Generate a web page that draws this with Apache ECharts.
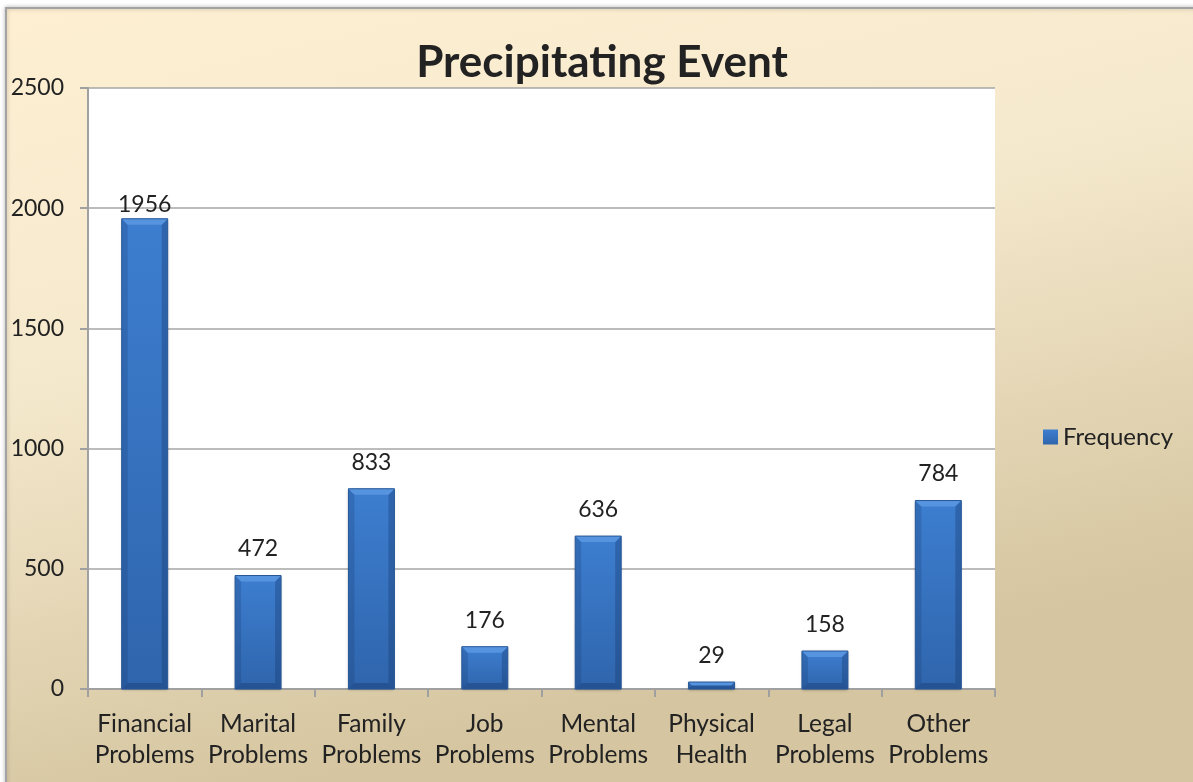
<!DOCTYPE html>
<html>
<head>
<meta charset="utf-8">
<title>Precipitating Event</title>
<script src="https://cdn.jsdelivr.net/npm/echarts@6/dist/echarts.min.js"></script>
<style>
  html, body { margin: 0; padding: 0; background: #ffffff; }
  #chart { width: 1193px; height: 782px; }
</style>
</head>
<body>
<div id="chart"></div>
<script>
// Precipitating events and how often each was reported
var categories = [
  'Financial\nProblems', 'Marital\nProblems', 'Family\nProblems', 'Job\nProblems',
  'Mental\nProblems', 'Physical\nHealth', 'Legal\nProblems', 'Other\nProblems'
];
var frequency = [1956, 472, 833, 176, 636, 29, 158, 784];
var yTicks = { min: 0, max: 2500, interval: 500 };

var FONT = 'Lato, "Open Sans", sans-serif';
var TEXT = '#222222';

var chart = echarts.init(document.getElementById('chart'));

// Bevel facets drawn over each bar: light top edge, shaded sides, darker bottom edge
function renderBevel(params, api) {
  var idx = api.value(0);
  var val = api.value(1);
  var top = api.coord([idx, val]);
  var base = api.coord([idx, 0]);
  var w = 46;
  var x0 = top[0] - w / 2, x1 = top[0] + w / 2;
  var y0 = top[1], y1 = base[1];
  var h = y1 - y0;
  var b = Math.min(6, h / 2);
  var children = [
    {
      type: 'polygon',
      shape: { points: [[x0, y0], [x0 + b, y0 + b], [x0 + b, y1 - b], [x0, y1]] },
      style: { fill: 'rgba(20,50,100,0.22)' }
    },
    {
      type: 'polygon',
      shape: { points: [[x1, y0], [x1 - b, y0 + b], [x1 - b, y1 - b], [x1, y1]] },
      style: { fill: 'rgba(20,50,100,0.32)' }
    },
    {
      type: 'polygon',
      shape: { points: [[x0, y0], [x1, y0], [x1 - b, y0 + b], [x0 + b, y0 + b]] },
      style: { fill: '#5794E0' }
    },
    {
      type: 'polygon',
      shape: { points: [[x0, y1], [x1, y1], [x1 - b, y1 - b], [x0 + b, y1 - b]] },
      style: { fill: 'rgba(20,50,100,0.35)' }
    },
    {
      type: 'rect',
      shape: { x: x0, y: y0, width: w, height: h },
      style: { fill: 'none', stroke: '#285897', lineWidth: 1 }
    }
  ];
  return { type: 'group', children: children, silent: true };
}

// The tallest bar keeps its label tucked just above it
var barData = frequency.map(function (v) {
  return v === Math.max.apply(null, frequency) ? { value: v, label: { distance: 3 } } : v;
});

chart.setOption({
  backgroundColor: '#ffffff',
  animation: false,
  textStyle: { fontFamily: FONT, color: TEXT },
  graphic: [{
    type: 'rect',
    z: -10,
    shape: { x: 6, y: 8, width: 1220, height: 800 },
    style: {
      fill: new echarts.graphic.LinearGradient(0, 0, 0.15, 1, [
        { offset: 0, color: '#FEEFD2' },
        { offset: 0.45, color: '#F5E9CD' },
        { offset: 1, color: '#D5C5A0' }
      ]),
      stroke: '#A3A3A3',
      lineWidth: 2,
      shadowBlur: 4,
      shadowColor: 'rgba(0,0,0,0.25)'
    }
  }],
  title: {
    text: 'Precipitating Event',
    left: 597,
    textAlign: 'center',
    top: 36,
    textStyle: { fontFamily: FONT, fontSize: 44, fontWeight: 'bold', color: TEXT }
  },
  legend: {
    data: ['Frequency'],
    left: 1038,
    top: 420,
    icon: 'rect',
    itemWidth: 15,
    itemHeight: 15,
    itemGap: 6,
    textStyle: { fontFamily: FONT, fontSize: 24, color: TEXT }
  },
  grid: {
    left: 88, top: 88, right: 198, bottom: 93,
    show: true, backgroundColor: '#ffffff', borderWidth: 0
  },
  xAxis: {
    type: 'category',
    data: categories,
    axisLine: { show: true, lineStyle: { color: '#A0A0A0', width: 2 } },
    axisTick: { show: true, length: 8, lineStyle: { color: '#A0A0A0', width: 2 } },
    axisLabel: {
      fontFamily: FONT, fontSize: 24.5, color: TEXT,
      lineHeight: 31, margin: 20, interval: 0
    }
  },
  yAxis: {
    type: 'value',
    min: yTicks.min, max: yTicks.max, interval: yTicks.interval,
    axisLine: { show: true, lineStyle: { color: '#A0A0A0', width: 2 } },
    axisTick: { show: true, length: 8, lineStyle: { color: '#A0A0A0', width: 2 } },
    axisLabel: {
      fontFamily: FONT, fontSize: 23, color: TEXT, margin: 24,
      formatter: function (v) { return String(v); }
    },
    splitLine: { show: true, lineStyle: { color: '#A6A6A6', width: 1.5 } }
  },
  series: [
    {
      name: 'Frequency',
      type: 'bar',
      data: barData,
      barWidth: 46,
      z: 2,
      itemStyle: {
        color: new echarts.graphic.LinearGradient(0, 0, 0, 1, [
          { offset: 0, color: '#3D7ED0' },
          { offset: 1, color: '#2F65AC' }
        ]),
        shadowBlur: 3,
        shadowColor: 'rgba(0,0,0,0.3)',
        shadowOffsetY: 1
      },
      label: {
        show: true, position: 'top', distance: 15,
        fontFamily: FONT, fontSize: 23, color: TEXT
      }
    },
    {
      name: 'bevel',
      type: 'custom',
      data: frequency.map(function (v, i) { return [i, v]; }),
      renderItem: renderBevel,
      z: 3,
      silent: true,
      tooltip: { show: false }
    }
  ]
});
</script>
</body>
</html>
